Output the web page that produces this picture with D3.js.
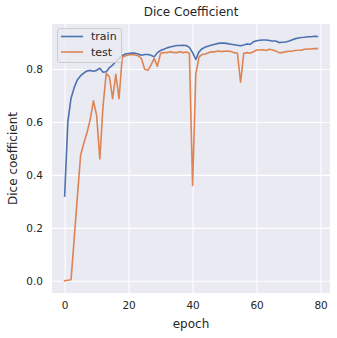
<!DOCTYPE html>
<html><head><meta charset="utf-8">
<script src="https://cdn.jsdelivr.net/npm/d3@7"></script>
<style>body{margin:0;background:#fff;} svg{display:block;font-family:"DejaVu Sans",sans-serif;}</style>
</head><body><svg id="c" width="337" height="338"></svg>
<script>
const epochs = d3.range(80);
const trainValues = [0.32,0.60,0.69,0.73,0.76,0.775,0.785,0.793,0.795,0.792,
0.795,0.803,0.788,0.79,0.805,0.815,0.828,0.84,0.85,0.857,
0.859,0.86,0.86,0.857,0.852,0.855,0.855,0.852,0.846,0.862,
0.87,0.875,0.88,0.883,0.886,0.889,0.889,0.89,0.889,0.882,
0.862,0.836,0.865,0.877,0.883,0.887,0.891,0.894,0.897,0.898,
0.898,0.896,0.894,0.892,0.89,0.888,0.891,0.895,0.893,0.903,
0.907,0.909,0.91,0.91,0.908,0.906,0.906,0.9,0.901,0.902,
0.905,0.91,0.914,0.917,0.919,0.92,0.922,0.922,0.924,0.923];
const testValues = [0.0,0.002,0.004,0.16,0.32,0.475,0.52,0.56,0.61,0.68,
0.625,0.46,0.66,0.784,0.77,0.688,0.78,0.688,0.844,0.85,
0.853,0.855,0.853,0.85,0.84,0.80,0.795,0.815,0.84,0.81,
0.86,0.862,0.862,0.865,0.863,0.862,0.865,0.862,0.864,0.86,
0.36,0.78,0.845,0.855,0.857,0.862,0.865,0.865,0.868,0.866,
0.867,0.868,0.866,0.862,0.86,0.75,0.86,0.862,0.86,0.865,
0.872,0.872,0.873,0.87,0.875,0.872,0.868,0.862,0.862,0.865,
0.867,0.867,0.87,0.871,0.871,0.875,0.876,0.876,0.877,0.877];
const xTicks = [0,20,40,60,80];
const yTicks = [0.0,0.2,0.4,0.6,0.8];
const seriesNames = ["train","test"];
const colors = ["#4C72B0","#DD8452"];

const svg = d3.select("#c");
const L=52, R=330, T=24, B=293;
const xmin=0, xmax=79, xm=(xmax-xmin)*0.05;
const allV = trainValues.concat(testValues);
const ymin=d3.min(allV), ymax=d3.max(allV), ym=(ymax-ymin)*0.05;
const x = d3.scaleLinear().domain([xmin-xm,xmax+xm]).range([L,R]);
const y = d3.scaleLinear().domain([ymin-ym,ymax+ym]).range([B,T]);

svg.append("rect").attr("x",L).attr("y",T).attr("width",R-L).attr("height",B-T).attr("fill","#EAEAF2");

const gx = svg.append("g").attr("transform",`translate(0,${B})`)
  .call(d3.axisBottom(x).tickValues(xTicks).tickFormat(d3.format("d")).tickSize(-(B-T)).tickPadding(9));
const gy = svg.append("g").attr("transform",`translate(${L},0)`)
  .call(d3.axisLeft(y).tickValues(yTicks).tickFormat(d3.format(".1f")).tickSize(-(R-L)).tickPadding(9));
[gx,gy].forEach(g=>{
  g.select(".domain").remove();
  g.selectAll(".tick line").attr("stroke","#fff").attr("stroke-width",1.1);
  g.selectAll(".tick text").attr("fill","#262626").attr("font-size",10.5).attr("font-family","DejaVu Sans");
});

const line = d3.line().x((d,i)=>x(epochs[i])).y(d=>y(d));
[trainValues,testValues].forEach((vals,k)=>{
  svg.append("path").datum(vals).attr("d",line).attr("fill","none")
    .attr("stroke",colors[k]).attr("stroke-width",1.6).attr("stroke-linejoin","round").attr("stroke-linecap","square");
});

// legend
const lg = svg.append("g");
lg.append("rect").attr("x",57.5).attr("y",28.5).attr("width",64).attr("height",34).attr("rx",2.5)
  .attr("fill","#EAEAF2").attr("fill-opacity",0.8).attr("stroke","#cccccc").attr("stroke-width",1);
seriesNames.forEach((n,k)=>{
  const cy = 36.5 + k*15.5;
  lg.append("line").attr("x1",61).attr("x2",83).attr("y1",cy).attr("y2",cy).attr("stroke",colors[k]).attr("stroke-width",1.6);
  lg.append("text").attr("x",91).attr("y",cy).attr("dy","0.35em").attr("font-size",11).attr("fill","#262626").text(n);
});

svg.append("text").attr("x",(L+R)/2).attr("y",16).attr("text-anchor","middle").attr("font-size",12).attr("fill","#262626").text("Dice Coefficient");
svg.append("text").attr("x",(L+R)/2).attr("y",328).attr("text-anchor","middle").attr("font-size",12).attr("fill","#262626").text("epoch");
svg.append("text").attr("transform",`translate(16.5,${(T+B)/2}) rotate(-90)`).attr("text-anchor","middle").attr("font-size",12).attr("fill","#262626").text("Dice coefficient");
</script></body></html>
